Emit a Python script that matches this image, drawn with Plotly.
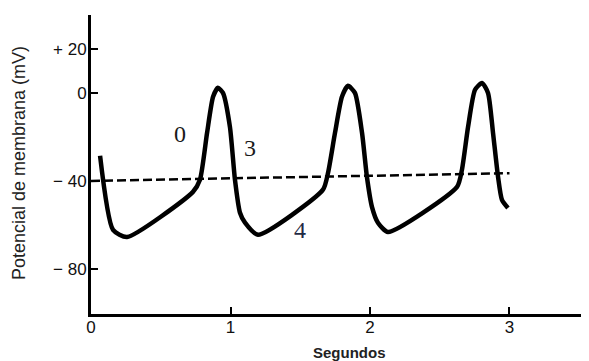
import plotly.graph_objects as go

# Action potential trace (seconds, mV)
t_s = [0.065, 0.158, 0.258, 0.731, 0.781, 0.832, 0.875, 0.910, 0.946, 0.996, 1.032, 1.068, 1.104, 1.197,
       1.663, 1.699, 1.749, 1.799, 1.842, 1.892, 1.943, 1.978, 2.014, 2.057, 2.129,
       2.624, 2.659, 2.703, 2.753, 2.803, 2.846, 2.882, 2.918, 2.946, 2.989]
v_mv = [-28.6, -62.3, -65.5, -45.0, -39.5, -18.2, -1.8, 2.3, 0.0, -15.5, -39.5, -54.5, -59.0, -64.5,
        -44.0, -36.4, -18.2, -1.8, 3.2, 0.0, -18.2, -38.2, -51.8, -59.0, -63.2,
        -42.7, -35.0, -15.5, 1.4, 4.5, 0.0, -18.2, -38.2, -48.6, -52.3]

# Threshold dashed line
thr_t = [0.0, 3.0]
thr_v = [-40.0, -36.5]

# Phase labels
phase_text = ["0", "3", "4"]
phase_t = [0.64, 1.14, 1.5]
phase_v = [-18.5, -25.0, -62.5]
phase_col = ["#1a1a1a", "#1a1a1a", "#1f2a44"]

y_tickvals = [20, 0, -40, -80]
y_ticktext = ["+ 20", "0", "− 40", "− 80"]
x_tickvals = [0, 1, 2, 3]
x_ticktext = ["0", "1", "2", "3"]

fig = go.Figure()
fig.add_trace(go.Scatter(x=thr_t, y=thr_v, mode="lines",
                         line=dict(color="black", width=2.5, dash="9px,4px"),
                         hoverinfo="skip", showlegend=False))
fig.add_trace(go.Scatter(x=t_s, y=v_mv, mode="lines",
                         line=dict(color="black", width=4.5, shape="spline", smoothing=0.6),
                         showlegend=False))

for txt, tx, ty, c in zip(phase_text, phase_t, phase_v, phase_col):
    fig.add_annotation(x=tx, y=ty, text=txt, showarrow=False,
                       font=dict(family="Liberation Serif", size=24, color=c))

fig.add_annotation(xref="paper", yref="paper", x=(349 - 91) / 498, y=-(352 - 314) / 299,
                   yanchor="middle", xanchor="center",
                   text="<b>Segundos</b>", showarrow=False,
                   font=dict(family="Liberation Sans", size=15, color="#222"))
fig.add_annotation(xref="paper", yref="paper", x=-(91 - 19) / 498, xanchor="center",
                   y=(314 - 163) / 299, yanchor="middle",
                   text="Potencial de membrana (mV)", textangle=-90, showarrow=False,
                   font=dict(family="Liberation Sans", size=18, color="#222"))

# page body has an 8px margin: shrink the figure so it fits the 589x361 window
fig.update_layout(
    width=581, height=353,
    margin=dict(l=83, r=0, t=7, b=47, autoexpand=False),
    paper_bgcolor="white", plot_bgcolor="white",
    font=dict(family="Liberation Sans", color="#222"),
)
fig.update_xaxes(range=[0, 3.57], showgrid=False, zeroline=False, automargin=False,
                 showline=True, linecolor="black", linewidth=3,
                 ticks="inside", ticklen=7, tickwidth=2, tickcolor="black",
                 tickvals=x_tickvals, ticktext=x_ticktext, ticklabelstandoff=-4,
                 tickfont=dict(size=17, color="#111"))
fig.update_yaxes(range=[-100.5, 35.4], showgrid=False, zeroline=False, automargin=False,
                 showline=True, linecolor="black", linewidth=3,
                 ticks="inside", ticklen=7, tickwidth=2, tickcolor="black",
                 tickvals=y_tickvals, ticktext=y_ticktext, ticklabelstandoff=-2,
                 tickfont=dict(size=17, color="#111"))

fig.write_html("out.html")
